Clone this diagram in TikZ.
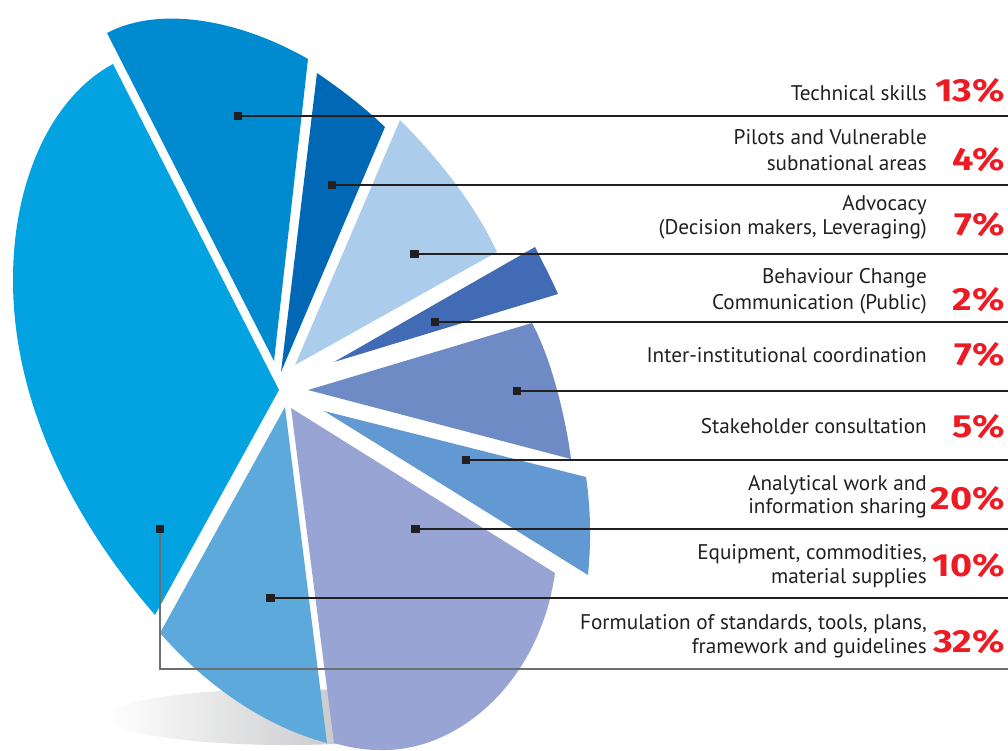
\documentclass[tikz,border=0pt]{standalone}
\usepackage{fontspec}
\setmainfont{PT Sans}
\newfontfamily\pctfont{Fira Sans}[FakeStretch=1.18]
\definecolor{colI}{RGB}{3,162,224}
\definecolor{colA}{RGB}{0,138,208}
\definecolor{colB}{RGB}{0,104,180}
\definecolor{colC}{RGB}{171,205,235}
\definecolor{colD}{RGB}{65,107,180}
\definecolor{colE}{RGB}{110,139,197}
\definecolor{colF}{RGB}{99,153,210}
\definecolor{colG}{RGB}{152,165,212}
\definecolor{colH}{RGB}{93,169,220}
\definecolor{txt}{RGB}{35,31,32}
\definecolor{pct}{RGB}{237,28,36}
\definecolor{shadowgray}{RGB}{172,173,176}
\definecolor{leadgray}{RGB}{109,110,113}
\tikzset{
  marker/.style={fill=txt, minimum width=8.5pt, minimum height=8pt, inner sep=0pt, outer sep=0pt},
  leader/.style={draw=txt, line width=1.3pt},
  leadergray/.style={draw=leadgray, line width=1.3pt},
  lbl/.style={anchor=base east, inner sep=0pt, text=txt, font=\fontsize{21.2}{26}\selectfont},
  pcnt/.style={anchor=base east, inner sep=0pt, text=pct, font=\pctfont\bfseries\fontsize{32}{36}\selectfont}
}
\begin{document}
\begin{tikzpicture}[x=1pt,y=-1pt]
\useasboundingbox (0,0) rectangle (1008,750);
% shadow
\shade[left color=white, right color=shadowgray] (287,717) ellipse [x radius=180, y radius=28];
% slices
\fill[colI] (279,390) -- (113,64) .. controls (55,95) and (13,175) .. (13,280) .. controls (13,420) and (90,540) .. (155,615) -- cycle;
\fill[colA] (274,361) -- (107,33) .. controls (160,5) and (240,20) .. (308,59) -- cycle;
\fill[colB] (281,372) -- (317,73) .. controls (342,90) and (365,108) .. (385,127) -- cycle;
\fill[colC] (295,365) -- (400,120) .. controls (440,160) and (475,205) .. (497,252) -- cycle;
\fill[colD] (334,362) -- (535,247) .. controls (543,263) and (551,278) .. (558,294) -- cycle;
\fill[colE] (308,390) -- (532,323) .. controls (552,360) and (566,420) .. (571,459) -- cycle;
\fill[colF] (324,411) -- (586,477) .. controls (591,510) and (591,545) .. (588,575) -- cycle;
\fill[colG] (291,408) -- (555,573) .. controls (540,680) and (460,752) .. (380,750) .. controls (362,750) and (348,747) .. (334,743) -- cycle;
\fill[colH] (285,407) -- (160,633) .. controls (210,690) and (270,728) .. (327,743) -- cycle;
% end points of leaders
\coordinate (e1) at (1008,116);
\coordinate (e2) at (1008,185);
\coordinate (e3) at (1008,254);
\coordinate (e4) at (1008,322);
\coordinate (e5) at (1008,391);
\coordinate (e6) at (1008,460);
\coordinate (e7) at (1008,529);
\coordinate (e8) at (1008,598);
\coordinate (e9) at (1008,669);
% markers
\node[marker] (m1) at (238,116) {};
\node[marker] (m2) at (332,185) {};
\node[marker] (m3) at (414.5,254) {};
\node[marker] (m4) at (435,322) {};
\node[marker] (m5) at (517,391) {};
\node[marker] (m6) at (466,460) {};
\node[marker] (m7) at (415.5,529) {};
\node[marker] (m8) at (270.5,598) {};
\node[marker] (m9) at (160,529) {};
% leaders
\draw[leader] (m1.center) -- (e1);
\draw[leader] (m2.center) -- (e2);
\draw[leader] (m3.center) -- (e3);
\draw[leader] (m4.center) -- (e4);
\draw[leader] (m5.center) -- (e5);
\draw[leader] (m6.center) -- (e6);
\draw[leader] (m7.center) -- (e7);
\draw[leader] (m8.center) -- (e8);
\draw[leadergray] (m9.center) |- (e9);
% redraw markers on top
\node[marker] at (m1) {};
\node[marker] at (m2) {};
\node[marker] at (m3) {};
\node[marker] at (m4) {};
\node[marker] at (m5) {};
\node[marker] at (m6) {};
\node[marker] at (m7) {};
\node[marker] at (m8) {};
\node[marker] at (m9) {};
% labels
\node[lbl] (t1) at (927,100) {Technical skills};
\node[pcnt] (p1) at (1005,101) {13\%};
\node[lbl] (t2a) at (927,144) {Pilots and Vulnerable};
\node[lbl] (t2b) at (927,170.5) {subnational areas};
\node[pcnt] (p2) at (1005,170.5) {4\%};
\node[lbl] (t3a) at (927,210.5) {Advocacy};
\node[lbl] (t3b) at (927,234) {(Decision makers, Leveraging)};
\node[pcnt] (p3) at (1005,235) {7\%};
\node[lbl] (t4a) at (927,283) {Behaviour Change};
\node[lbl] (t4b) at (927,309.5) {Communication (Public)};
\node[pcnt] (p4) at (1005,310) {2\%};
\node[lbl] (t5) at (927,362) {Inter-institutional coordination};
\node[pcnt] (p5) at (1005,365) {7\%};
\node[lbl] (t6) at (927,433) {Stakeholder consultation};
\node[pcnt] (p6) at (1005,437) {5\%};
\node[lbl] (t7a) at (927,490) {Analytical work and};
\node[lbl] (t7b) at (927,513.5) {information sharing};
\node[pcnt] (p7) at (1005,509) {20\%};
\node[lbl] (t8a) at (927,559) {Equipment, commodities,};
\node[lbl] (t8b) at (927,583) {material supplies};
\node[pcnt] (p8) at (1005,576) {10\%};
\node[lbl] (t9a) at (927,629.5) {Formulation of standards, tools, plans,};
\node[lbl] (t9b) at (927,653) {framework and guidelines};
\node[pcnt] (p9) at (1005,652) {32\%};
\end{tikzpicture}
\end{document}
